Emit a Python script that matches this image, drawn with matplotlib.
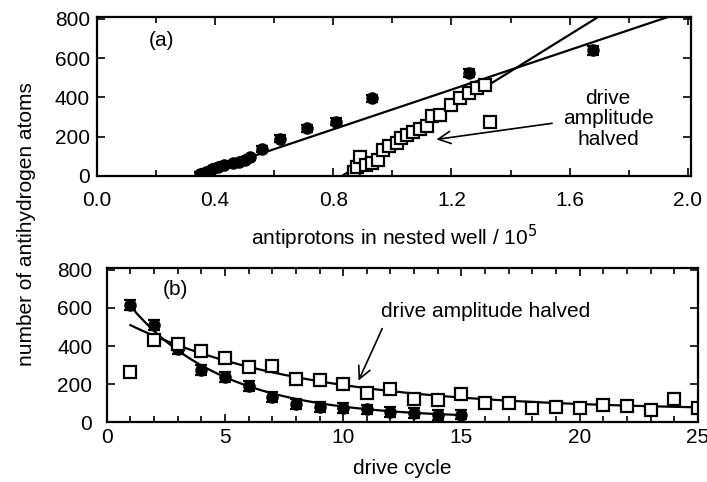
import numpy as np
import matplotlib.pyplot as plt
from matplotlib.ticker import MultipleLocator

plt.rcParams['font.family'] = ['Liberation Sans', 'DejaVu Sans']
plt.rcParams['font.size'] = 15

# (a) antihydrogen yield vs number of antiprotons in the nested well (units of 1e5)
pbar_full = [0.35, 0.37, 0.39, 0.41, 0.43, 0.46, 0.48, 0.50, 0.52,
             0.56, 0.62, 0.71, 0.81, 0.93, 1.26, 1.68]
hbar_full = [10, 22, 35, 48, 58, 66, 72, 82, 95,
             135, 190, 242, 275, 395, 525, 640]
err_full = [12, 12, 12, 12, 12, 12, 12, 12, 12, 15, 18, 18, 18, 18, 22, 22]

pbar_half = [0.87, 0.88, 0.89, 0.91, 0.93, 0.95, 0.97, 0.99, 1.016, 1.03,
             1.05, 1.07, 1.095, 1.117, 1.135, 1.163, 1.197, 1.23, 1.26,
             1.287, 1.315, 1.33]
hbar_half = [20, 47, 98, 56, 65, 82, 133, 153, 167, 192,
             209, 226, 238, 252, 303, 311, 362, 396, 422,
             447, 464, 277]
err_half = [15] * len(pbar_half)

# straight-line fits: (zero crossing, slope)
fit_full = (0.33, 505)
fit_half = (0.83, 934)

# (b) antihydrogen yield per drive cycle
cycle_full = list(range(1, 16))
hbar_cycle_full = [616, 510, 384, 274, 237, 189, 132, 95, 79, 75,
                   68, 54, 49, 37, 40]
cycle_half = list(range(1, 26))
hbar_cycle_half = [263, 432, 410, 374, 337, 290, 295, 226, 221, 200,
                   153, 174, 121, 116, 147, 102, 102, 73, 81, 73,
                   90, 84, 63, 121, 73]

# exponential fits: offset + amp * exp(-(n - 1) / tau)
decay_full = dict(offset=20, amp=590, tau=4.0)
decay_half = dict(offset=60, amp=450, tau=7.5)

fig = plt.figure(figsize=(7.07, 4.82), dpi=100)
ax1 = fig.add_axes([0.137, 0.635, 0.840, 0.330])
ax2 = fig.add_axes([0.151, 0.124, 0.836, 0.320])

mk = dict(color='black', ecolor='black', elinewidth=1.4, capsize=4,
          capthick=1.6, linestyle='none', markersize=8)

# panel (a)
ax1.errorbar(pbar_full, hbar_full, yerr=err_full, fmt='o', **mk)
ax1.errorbar(pbar_half, hbar_half, yerr=err_half, fmt='s',
             markerfacecolor='white', markeredgewidth=1.6, **mk)
for x0, slope in (fit_full, fit_half):
    xs = np.array([x0, 2.1])
    ax1.plot(xs, slope * (xs - x0), color='black', lw=1.6)

ax1.set_xlim(0, 2.01)
ax1.set_ylim(0, 810)
ax1.xaxis.set_major_locator(MultipleLocator(0.4))
ax1.xaxis.set_minor_locator(MultipleLocator(0.2))
ax1.yaxis.set_major_locator(MultipleLocator(200))
ax1.xaxis.set_major_formatter(lambda v, p: f'{v:.1f}')
ax1.set_xlabel('antiprotons in nested well / 10$^5$', labelpad=9)
ax1.tick_params(axis='x', pad=11)
ax1.tick_params(axis='y', pad=5)
ax1.text(0.22, 690, '(a)', ha='center', va='center')
ax1.text(1.73, 290, 'drive\namplitude\nhalved', ha='center', va='center',
         linespacing=1.1)
ax1.annotate('', xy=(1.14, 184), xytext=(1.55, 270),
             arrowprops=dict(arrowstyle='->', color='black', lw=1.2,
                             mutation_scale=22))

# panel (b)
ax2.errorbar(cycle_full, hbar_cycle_full, yerr=25, fmt='o', **mk)
ax2.errorbar(cycle_half, hbar_cycle_half, yerr=20, fmt='s',
             markerfacecolor='white', markeredgewidth=1.6, **mk)
n_full = np.linspace(1, 15, 100)
ax2.plot(n_full, decay_full['offset'] + decay_full['amp'] *
         np.exp(-(n_full - 1) / decay_full['tau']), color='black', lw=1.6)
n_half = np.linspace(1, 25, 100)
ax2.plot(n_half, decay_half['offset'] + decay_half['amp'] *
         np.exp(-(n_half - 1) / decay_half['tau']), color='black', lw=1.6)

ax2.set_xlim(0, 25)
ax2.set_ylim(0, 810)
ax2.xaxis.set_major_locator(MultipleLocator(5))
ax2.xaxis.set_minor_locator(MultipleLocator(1))
ax2.yaxis.set_major_locator(MultipleLocator(200))
ax2.set_xlabel('drive cycle', labelpad=9)
ax2.tick_params(axis='x', pad=4)
ax2.tick_params(axis='y', pad=10.5)
ax2.text(2.9, 695, '(b)', ha='center', va='center')
ax2.text(11.6, 580, 'drive amplitude halved', ha='left', va='center')
ax2.annotate('', xy=(10.6, 205), xytext=(11.7, 505),
             arrowprops=dict(arrowstyle='->', color='black', lw=1.2,
                             mutation_scale=22))

for ax in (ax1, ax2):
    for sp in ax.spines.values():
        sp.set_linewidth(1.6)
    ax.tick_params(which='both', direction='in', top=True, right=True,
                   width=1.2, labelsize=15)
    ax.tick_params(which='major', length=6)
    ax.tick_params(which='minor', length=4)

fig.text(0.038, 0.535, 'number of antihydrogen atoms', rotation=90,
         ha='center', va='center', fontsize=15)

fig.savefig('out.png', dpi=100)
